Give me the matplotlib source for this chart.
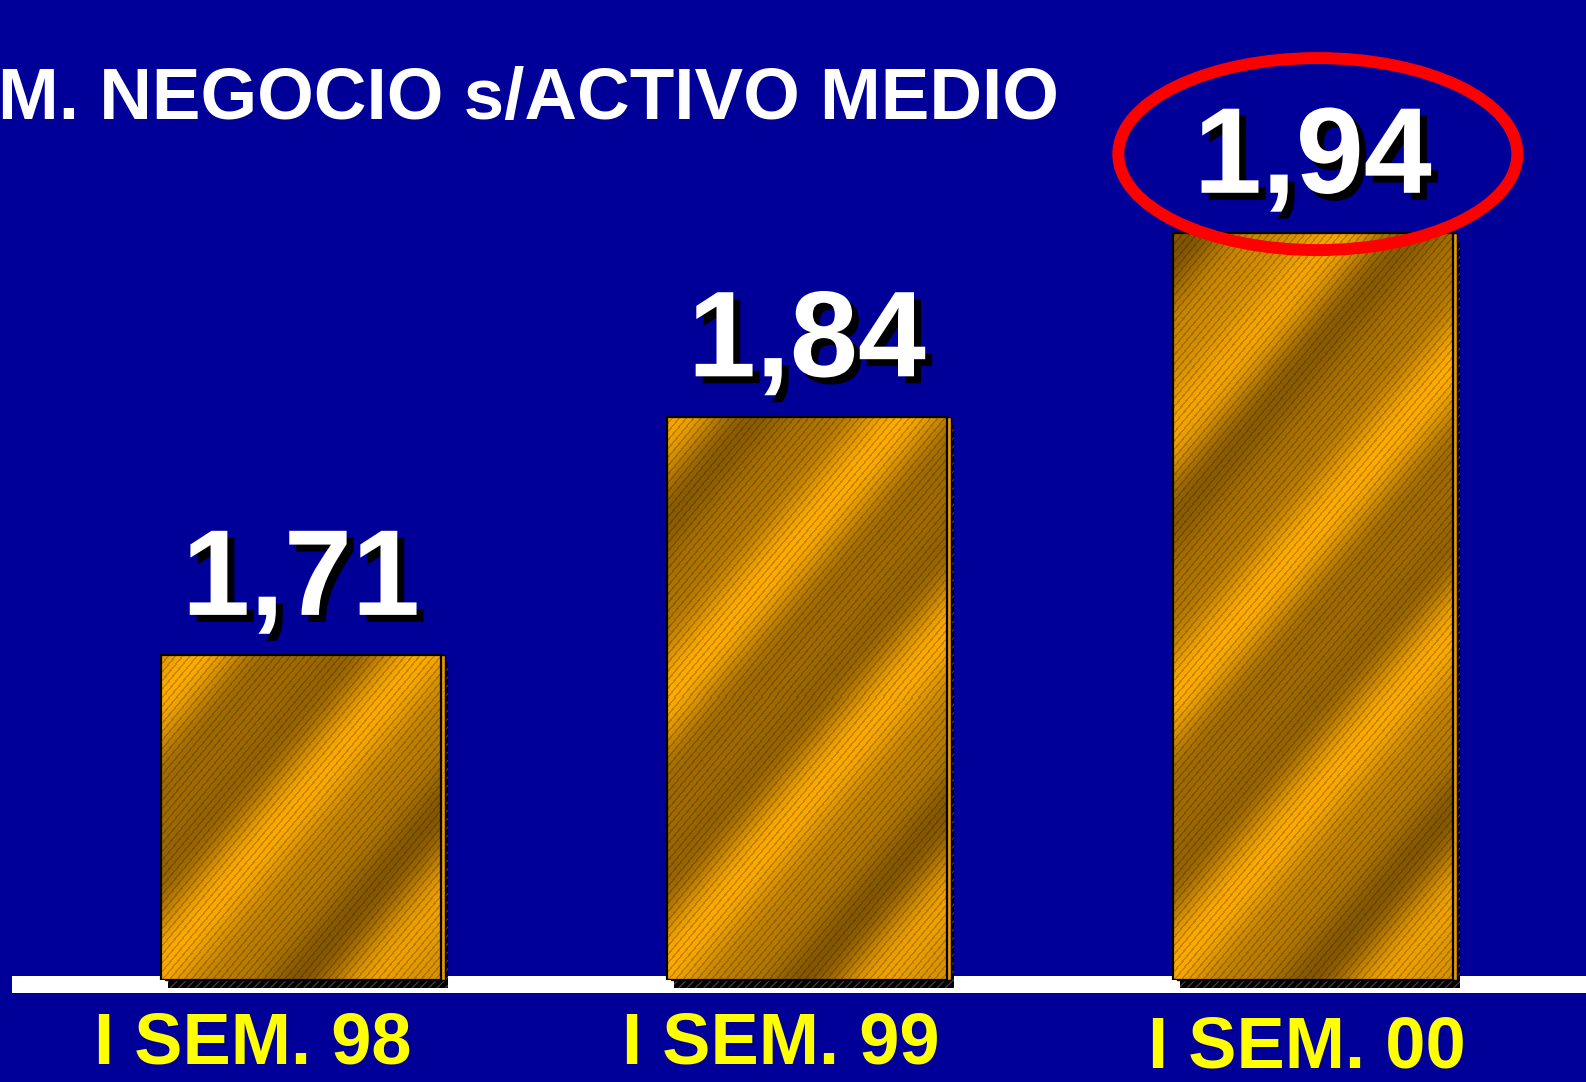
import numpy as np
import matplotlib
matplotlib.use('Agg')
import matplotlib.pyplot as plt
import matplotlib.patheffects as pe
from matplotlib.patches import Rectangle, Ellipse
from matplotlib.transforms import ScaledTranslation, IdentityTransform

plt.rcParams['font.family'] = ['Liberation Sans', 'DejaVu Sans']
plt.rcParams['hatch.linewidth'] = 0.8

# ── Data ───────────────────────────────────────────────────────────────────────
periods = ['I SEM. 98', 'I SEM. 99', 'I SEM. 00']
ratio = [1.71, 1.84, 1.94]
title = 'M. NEGOCIO s/ACTIVO MEDIO'

# ── Style ──────────────────────────────────────────────────────────────────────
BG = '#000099'
GOLD_HI = np.array([255, 172, 0]) / 255
GOLD_LO = np.array([122, 80, 0]) / 255
Y_MIN, Y_MAX = 1.533, 2.067
BAR_W = 0.553
label_shift_px = [-48, -26, -6]
label_drop_px = [84, 84, 87]

W_PX, H_PX, DPI = 1586, 1082, 100
fig = plt.figure(figsize=(W_PX / DPI, H_PX / DPI), dpi=DPI, facecolor=BG)
ax = fig.add_axes([0, 102 / H_PX, 1, 980 / H_PX])
ax.set_facecolor(BG)
ax.set_xlim(-0.595, 2.540)
ax.set_ylim(Y_MIN, Y_MAX)
ax.axis('off')

# white floor line
ax.add_patch(Rectangle((12 / W_PX, -13 / 980), 1, 17 / 980, transform=ax.transAxes,
                       facecolor='white', edgecolor='none', clip_on=False, zorder=1))


def px_offset(dx, dy):
    return ax.transData + ScaledTranslation(dx / DPI, dy / DPI, fig.dpi_scale_trans)


def brushed_gold(w, h):
    """Diagonal brushed-metal texture, rows bottom-up."""
    x, y = np.meshgrid(np.arange(w), np.arange(h))
    th = np.deg2rad(50)
    p = x * np.sin(th) - y * np.cos(th)
    b = 0.52 + 0.36 * np.cos(2 * np.pi * p / 185) + 0.12 * np.cos(2 * np.pi * p / 83 + 1.0)
    b = np.clip(b, 0, 1)
    img = GOLD_LO + (GOLD_HI - GOLD_LO) * b[..., None]
    fine = (np.mod(p, 5.5) < 1.6)
    img[fine] *= 0.8
    return img


for i, v in enumerate(ratio):
    x0 = i - BAR_W / 2
    h = v - Y_MIN
    # drop shadow
    ax.add_patch(Rectangle((x0, Y_MIN), BAR_W, h, transform=px_offset(7, -8),
                           facecolor='black', edgecolor='#4a4a4a', hatch='////',
                           linewidth=0, zorder=2, clip_on=False))
    # side depth
    ax.add_patch(Rectangle((x0, Y_MIN), BAR_W, h, transform=px_offset(4, 0),
                           facecolor='#E89A00', edgecolor='black', linewidth=1,
                           zorder=3, clip_on=False))
    (px0, py0), (px1, py1) = ax.transData.transform([(x0, Y_MIN), (x0 + BAR_W, v)])
    tex = brushed_gold(int(round(px1 - px0)), int(round(py1 - py0)))
    ax.imshow(tex, extent=(x0, x0 + BAR_W, Y_MIN, v), origin='lower',
              aspect='auto', interpolation='nearest', zorder=4)
    ax.add_patch(Rectangle((x0, Y_MIN), BAR_W, h, facecolor='none',
                           edgecolor='black', linewidth=1.6, zorder=5))

    ax.annotate(f'{v:.2f}'.replace('.', ','), xy=(i, v), xytext=(0, 29),
                textcoords='offset points', ha='center', va='baseline',
                fontsize=88, fontweight='bold', color='white', zorder=6,
                path_effects=[pe.SimplePatchShadow(offset=(5, -5), shadow_rgbFace='black', alpha=1),
                              pe.Normal()])

    ax.annotate(periods[i], xy=(i, Y_MIN),
                xytext=(label_shift_px[i] * 0.72, -label_drop_px[i] * 0.72),
                textcoords='offset points', ha='center', va='baseline',
                fontsize=52, fontweight='bold', color='#FFFF00', annotation_clip=False)

ax.set_xlim(-0.595, 2.540)
ax.set_ylim(Y_MIN, Y_MAX)

# highlight ring round the latest value
best = int(np.argmax(ratio))
cx, cy = ax.transData.transform((best, ratio[best]))
fig.add_artist(Ellipse((cx + 5, cy + 79), 399, 192, transform=IdentityTransform(),
                       fill=False, edgecolor='#FF0000', linewidth=8.6, zorder=10))

fig.text(-0.001, 963 / H_PX, title, ha='left', va='baseline', fontsize=52.5,
         fontweight='bold', color='white')

fig.savefig('out.png', dpi=DPI, facecolor=BG)
